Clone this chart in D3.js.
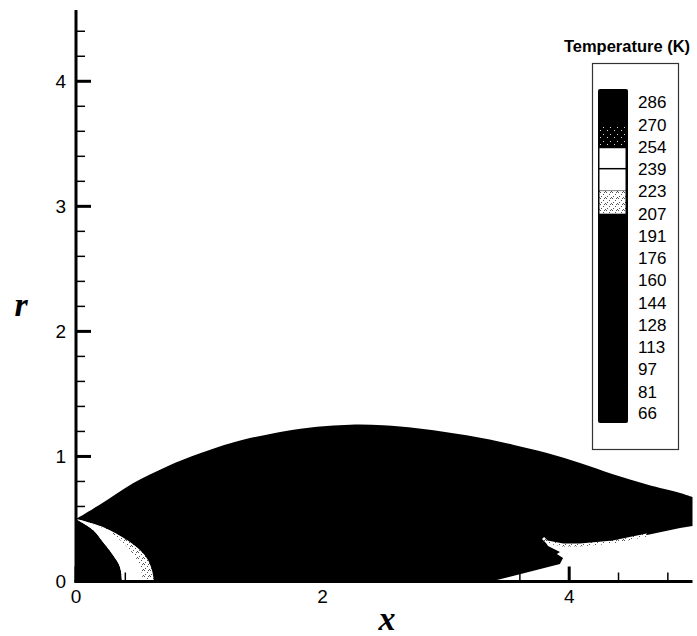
<!DOCTYPE html>
<html>
<head>
<meta charset="utf-8">
<script src="https://cdn.jsdelivr.net/npm/d3@7"></script>
<style>
  html, body { margin: 0; padding: 0; background: #fff; }
  svg { display: block; }
</style>
</head>
<body>
<div id="chart"></div>
<script>
// ---- data (x, r in model units; temperature levels in K) ----
const plumeTop = [
  [0, 0.5], [0.195, 0.615], [0.462, 0.785], [0.738, 0.92], [1.006, 1.025],
  [1.273, 1.112], [1.679, 1.2], [1.955, 1.238], [2.223, 1.254], [2.49, 1.25],
  [2.766, 1.226], [3.033, 1.19], [3.3, 1.146], [3.544, 1.094], [3.82, 1.028],
  [4.088, 0.948], [4.355, 0.858], [4.631, 0.776], [4.899, 0.708], [5.0, 0.676]
];
// lower edge of plume, right end back to the axis (with the jagged notch)
const plumeBottom = [
  [5.0, 0.444], [4.899, 0.428], [4.631, 0.372], [4.355, 0.316], [4.088, 0.292],
  [3.95, 0.292], [3.82, 0.316], [3.788, 0.348], [3.828, 0.284], [3.925, 0.236],
  [3.9, 0.22], [3.95, 0.188], [3.925, 0.14], [3.414, 0.012], [3.374, 0]
];
// near-origin bands: cold core edge, white crescent edge, stipple edge
const coreEdge = [
  [0, 0.5], [0.138, 0.412], [0.219, 0.316], [0.3, 0.212], [0.357, 0.116], [0.373, 0]
];
const whiteEdge = [
  [0, 0.5], [0.114, 0.468], [0.251, 0.412], [0.357, 0.332], [0.438, 0.252],
  [0.495, 0.172], [0.527, 0.092], [0.543, 0]
];
const stippleEdge = [
  [0, 0.5], [0.219, 0.436], [0.414, 0.332], [0.519, 0.252], [0.584, 0.172],
  [0.616, 0.092], [0.633, 0]
];

const xMajor = [0, 2, 4];
const xMinor = [0.4, 0.8, 1.2, 1.6, 2.4, 2.8, 3.2, 3.6, 4.4, 4.8];
const yMajor = [0, 1, 2, 3, 4];
const yMinor = [0.2, 0.4, 0.6, 0.8, 1.2, 1.4, 1.6, 1.8, 2.2, 2.4, 2.6, 2.8,
                3.2, 3.4, 3.6, 3.8, 4.2, 4.4];

const levels = [286, 270, 254, 239, 223, 207, 191, 176, 160, 144, 128, 113, 97, 81, 66];
// band fill between consecutive levels (top to bottom)
const bandFills = ['black', 'dark', 'white', 'white', 'light', 'black', 'black', 'black',
                   'black', 'black', 'black', 'black', 'black', 'black'];

// ---- setup ----
const W = 697, H = 636;
const svg = d3.select('#chart').append('svg').attr('width', W).attr('height', H);

const x = d3.scaleLinear().domain([0, 5]).range([76, 692.5]);
const y = d3.scaleLinear().domain([0, 4.57]).range([581.5, 10]);

// stipple patterns (scanned-print dither look)
const defs = svg.append('defs');
const light = defs.append('pattern').attr('id', 'light')
  .attr('width', 6).attr('height', 6).attr('patternUnits', 'userSpaceOnUse');
light.append('rect').attr('width', 6).attr('height', 6).attr('fill', '#fff');
[[0, 0], [3, 2], [1, 4], [5, 5], [4, 0]].forEach(p =>
  light.append('rect').attr('x', p[0]).attr('y', p[1]).attr('width', 1).attr('height', 1).attr('fill', '#555'));
const dark = defs.append('pattern').attr('id', 'dark')
  .attr('width', 7).attr('height', 7).attr('patternUnits', 'userSpaceOnUse');
dark.append('rect').attr('width', 7).attr('height', 7).attr('fill', '#000');
[[1, 1], [5, 4]].forEach(p =>
  dark.append('rect').attr('x', p[0]).attr('y', p[1]).attr('width', 1).attr('height', 1).attr('fill', '#ddd'));

const fillOf = f => f === 'dark' ? 'url(#dark)' : f === 'light' ? 'url(#light)' : f;
const line = d3.line().x(d => x(d[0])).y(d => y(d[1]));
const smooth = d3.line().x(d => x(d[0])).y(d => y(d[1])).curve(d3.curveCatmullRom.alpha(0.5));

// ---- contour regions ----
const plot = svg.append('g');
plot.append('path')
  .attr('d', smooth(plumeTop) + line([...plumeBottom, [0, 0]]).replace(/^M/, 'L') + 'Z')
  .attr('fill', '#000');

// thin stippled seam along the plume's lower edge
plot.append('path')
  .attr('d', line(plumeBottom.slice(2, 8)))
  .attr('fill', 'none').attr('stroke', 'url(#light)').attr('stroke-width', 3);

const band = (outer, inner) =>
  smooth(outer) + smooth(inner.slice().reverse()).replace(/^M/, 'L') + 'Z';
plot.append('path').attr('d', band(stippleEdge, coreEdge)).attr('fill', 'url(#light)');
plot.append('path').attr('d', band(whiteEdge, coreEdge)).attr('fill', '#fff');

// ---- axes ----
const ax = svg.append('g').attr('stroke', '#000');
ax.selectAll('.ymaj').data(yMajor).join('line')
  .attr('x1', x(0)).attr('x2', x(0) + 15).attr('y1', d => y(d)).attr('y2', d => y(d))
  .attr('stroke-width', 3);
ax.selectAll('.ymin').data(yMinor).join('line')
  .attr('x1', x(0)).attr('x2', x(0) + 9).attr('y1', d => y(d)).attr('y2', d => y(d))
  .attr('stroke-width', 1.5);
ax.selectAll('.xmaj').data(xMajor).join('line')
  .attr('y1', y(0)).attr('y2', y(0) - 15).attr('x1', d => x(d)).attr('x2', d => x(d))
  .attr('stroke-width', 3);
ax.selectAll('.xmin').data(xMinor).join('line')
  .attr('y1', y(0)).attr('y2', y(0) - 9).attr('x1', d => x(d)).attr('x2', d => x(d))
  .attr('stroke-width', 1.5);
ax.append('line').attr('x1', x(0)).attr('x2', x(0)).attr('y1', y(4.57)).attr('y2', y(0) + 1.5)
  .attr('stroke-width', 3);
ax.append('line').attr('x1', x(0) - 1.5).attr('x2', x(5)).attr('y1', y(0)).attr('y2', y(0))
  .attr('stroke-width', 3);

const lab = svg.append('g').attr('font-family', 'Liberation Sans, Arial, sans-serif')
  .attr('font-size', 19).attr('fill', '#000');
lab.selectAll('.yl').data(yMajor).join('text')
  .attr('x', 66).attr('y', d => y(d)).attr('dy', '0.36em').attr('text-anchor', 'end')
  .text(d => d);
lab.selectAll('.xl').data(xMajor).join('text')
  .attr('x', d => x(d)).attr('y', 603).attr('text-anchor', 'middle')
  .text(d => d);

svg.append('text').attr('x', 21).attr('y', 316).attr('text-anchor', 'middle')
  .attr('font-family', 'Liberation Serif, Times New Roman, serif')
  .attr('font-style', 'italic').attr('font-weight', 'bold').attr('font-size', 34)
  .text('r');
svg.append('text').attr('x', 387).attr('y', 630).attr('text-anchor', 'middle')
  .attr('font-family', 'Liberation Serif, Times New Roman, serif')
  .attr('font-style', 'italic').attr('font-weight', 'bold').attr('font-size', 34)
  .text('x');

// ---- legend ----
const lg = svg.append('g');
lg.append('text').attr('x', 627).attr('y', 52).attr('text-anchor', 'middle')
  .attr('font-family', 'Liberation Sans, Arial, sans-serif').attr('font-weight', 'bold')
  .attr('font-size', 16.5).text('Temperature (K)');
lg.append('rect').attr('x', 592.5).attr('y', 63.5).attr('width', 86).attr('height', 386)
  .attr('fill', '#fff').attr('stroke', '#333').attr('stroke-width', 1.2);

const ly = d3.scaleLinear().domain([286, 66]).range([102, 413]);
lg.append('rect').attr('x', 598).attr('y', ly(286) - 13).attr('width', 30)
  .attr('height', ly(66) + 10 - (ly(286) - 13)).attr('rx', 2).attr('fill', '#000');
lg.selectAll('.band').data(bandFills.map((f, i) => ({ f, a: levels[i], b: levels[i + 1] }))
    .filter(d => d.f !== 'black'))
  .join('rect')
  .attr('x', 599.5).attr('width', 26)
  .attr('y', d => ly(d.a) + (d.f === 'white' ? 1 : 0))
  .attr('height', d => ly(d.b) - ly(d.a) - (d.f === 'white' ? 1.5 : 0))
  .attr('fill', d => fillOf(d.f));
lg.selectAll('.lv').data(levels).join('text')
  .attr('x', 638).attr('y', d => ly(d)).attr('dy', '0.36em')
  .attr('font-family', 'Liberation Sans, Arial, sans-serif').attr('font-size', 17)
  .text(d => d);
</script>
</body>
</html>
